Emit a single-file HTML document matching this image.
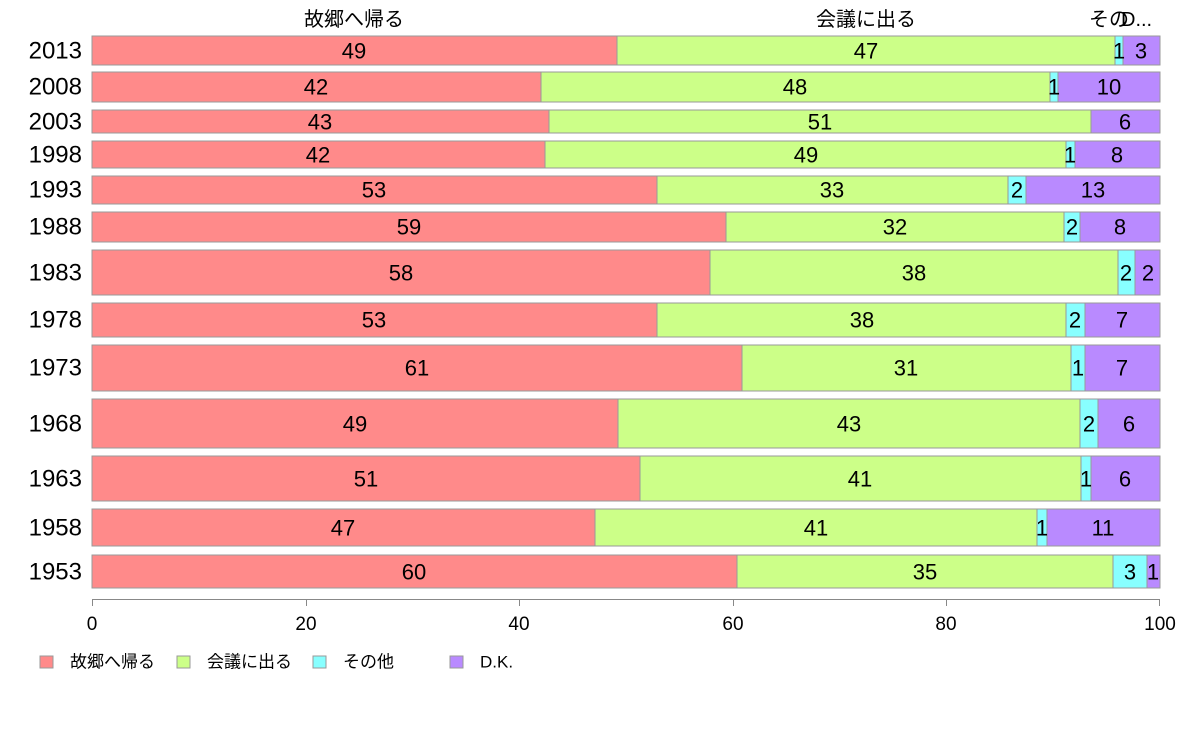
<!DOCTYPE html>
<html><head><meta charset="utf-8"><style>
html,body{margin:0;padding:0;background:#fff;}
svg text{font-family:"Liberation Sans","Noto Sans CJK JP",sans-serif;fill:#000;}
.y{font-size:24px;text-anchor:end;dominant-baseline:central;}
.v{font-size:22px;text-anchor:middle;dominant-baseline:central;}
.t{font-size:20px;text-anchor:middle;}
.l{font-size:17px;dominant-baseline:central;}
rect{stroke:#999;stroke-width:1;}
.a{fill:#FF8A8A}.b{fill:#CCFF88}.c{fill:#88FFFF}.d{fill:#B98AFF}
</style></head><body>
<svg width="1188" height="736" xmlns="http://www.w3.org/2000/svg">
<text class="t" x="354" y="26">故郷へ帰る</text>
<text class="t" x="866" y="26">会議に出る</text>
<text class="t" x="1089" y="26" style="text-anchor:start">その</text>
<text class="t" x="1121" y="26" style="text-anchor:start">D...</text>

<text class="y" x="82" y="51">2013</text>
<rect class="a" x="92" y="36" width="525" height="29"/><rect class="b" x="617" y="36" width="498" height="29"/><rect class="c" x="1115" y="36" width="8" height="29"/><rect class="d" x="1123" y="36" width="37" height="29"/>
<text class="v" x="354" y="51">49</text><text class="v" x="866" y="51">47</text><text class="v" x="1119" y="51">1</text><text class="v" x="1141" y="51">3</text>

<text class="y" x="82" y="87">2008</text>
<rect class="a" x="92" y="72" width="449" height="30"/><rect class="b" x="541" y="72" width="509" height="30"/><rect class="c" x="1050" y="72" width="8" height="30"/><rect class="d" x="1058" y="72" width="102" height="30"/>
<text class="v" x="316" y="87">42</text><text class="v" x="795" y="87">48</text><text class="v" x="1054" y="87">1</text><text class="v" x="1109" y="87">10</text>

<text class="y" x="82" y="122">2003</text>
<rect class="a" x="92" y="110" width="457" height="23"/><rect class="b" x="549" y="110" width="542" height="23"/><rect class="d" x="1091" y="110" width="69" height="23"/>
<text class="v" x="320" y="122">43</text><text class="v" x="820" y="122">51</text><text class="v" x="1125" y="122">6</text>

<text class="y" x="82" y="155">1998</text>
<rect class="a" x="92" y="141" width="453" height="27"/><rect class="b" x="545" y="141" width="521" height="27"/><rect class="c" x="1066" y="141" width="9" height="27"/><rect class="d" x="1075" y="141" width="85" height="27"/>
<text class="v" x="318" y="155">42</text><text class="v" x="806" y="155">49</text><text class="v" x="1070" y="155">1</text><text class="v" x="1117" y="155">8</text>

<text class="y" x="82" y="190">1993</text>
<rect class="a" x="92" y="176" width="565" height="28"/><rect class="b" x="657" y="176" width="351" height="28"/><rect class="c" x="1008" y="176" width="18" height="28"/><rect class="d" x="1026" y="176" width="134" height="28"/>
<text class="v" x="374" y="190">53</text><text class="v" x="832" y="190">33</text><text class="v" x="1017" y="190">2</text><text class="v" x="1093" y="190">13</text>

<text class="y" x="82" y="227">1988</text>
<rect class="a" x="92" y="212" width="634" height="30"/><rect class="b" x="726" y="212" width="338" height="30"/><rect class="c" x="1064" y="212" width="16" height="30"/><rect class="d" x="1080" y="212" width="80" height="30"/>
<text class="v" x="409" y="227">59</text><text class="v" x="895" y="227">32</text><text class="v" x="1072" y="227">2</text><text class="v" x="1120" y="227">8</text>

<text class="y" x="82" y="273">1983</text>
<rect class="a" x="92" y="250" width="618" height="45"/><rect class="b" x="710" y="250" width="408" height="45"/><rect class="c" x="1118" y="250" width="17" height="45"/><rect class="d" x="1135" y="250" width="25" height="45"/>
<text class="v" x="401" y="273">58</text><text class="v" x="914" y="273">38</text><text class="v" x="1126" y="273">2</text><text class="v" x="1148" y="273">2</text>

<text class="y" x="82" y="320">1978</text>
<rect class="a" x="92" y="303" width="565" height="34"/><rect class="b" x="657" y="303" width="409" height="34"/><rect class="c" x="1066" y="303" width="19" height="34"/><rect class="d" x="1085" y="303" width="75" height="34"/>
<text class="v" x="374" y="320">53</text><text class="v" x="862" y="320">38</text><text class="v" x="1075" y="320">2</text><text class="v" x="1122" y="320">7</text>

<text class="y" x="82" y="368">1973</text>
<rect class="a" x="92" y="345" width="650" height="46"/><rect class="b" x="742" y="345" width="329" height="46"/><rect class="c" x="1071" y="345" width="14" height="46"/><rect class="d" x="1085" y="345" width="75" height="46"/>
<text class="v" x="417" y="368">61</text><text class="v" x="906" y="368">31</text><text class="v" x="1078" y="368">1</text><text class="v" x="1122" y="368">7</text>

<text class="y" x="82" y="424">1968</text>
<rect class="a" x="92" y="399" width="526" height="49"/><rect class="b" x="618" y="399" width="462" height="49"/><rect class="c" x="1080" y="399" width="18" height="49"/><rect class="d" x="1098" y="399" width="62" height="49"/>
<text class="v" x="355" y="424">49</text><text class="v" x="849" y="424">43</text><text class="v" x="1089" y="424">2</text><text class="v" x="1129" y="424">6</text>

<text class="y" x="82" y="479">1963</text>
<rect class="a" x="92" y="456" width="548" height="45"/><rect class="b" x="640" y="456" width="441" height="45"/><rect class="c" x="1081" y="456" width="10" height="45"/><rect class="d" x="1091" y="456" width="69" height="45"/>
<text class="v" x="366" y="479">51</text><text class="v" x="860" y="479">41</text><text class="v" x="1086" y="479">1</text><text class="v" x="1125" y="479">6</text>

<text class="y" x="82" y="528">1958</text>
<rect class="a" x="92" y="509" width="503" height="37"/><rect class="b" x="595" y="509" width="442" height="37"/><rect class="c" x="1037" y="509" width="10" height="37"/><rect class="d" x="1047" y="509" width="113" height="37"/>
<text class="v" x="343" y="528">47</text><text class="v" x="816" y="528">41</text><text class="v" x="1042" y="528">1</text><text class="v" x="1103" y="528">11</text>

<text class="y" x="82" y="572">1953</text>
<rect class="a" x="92" y="555" width="645" height="33"/><rect class="b" x="737" y="555" width="376" height="33"/><rect class="c" x="1113" y="555" width="34" height="33"/><rect class="d" x="1147" y="555" width="13" height="33"/>
<text class="v" x="414" y="572">60</text><text class="v" x="925" y="572">35</text><text class="v" x="1130" y="572">3</text><text class="v" x="1153" y="572">1</text>

<g stroke="#888" stroke-width="1" fill="none">
<line x1="92" y1="599.5" x2="1160" y2="599.5"/>
<line x1="92.5" y1="599" x2="92.5" y2="606"/><line x1="306.5" y1="599" x2="306.5" y2="606"/><line x1="519.5" y1="599" x2="519.5" y2="606"/><line x1="733.5" y1="599" x2="733.5" y2="606"/><line x1="946.5" y1="599" x2="946.5" y2="606"/><line x1="1159.5" y1="599" x2="1159.5" y2="606"/>
</g>
<g style="font-size:19px;text-anchor:middle">
<text x="92" y="630">0</text><text x="306" y="630">20</text><text x="519" y="630">40</text><text x="733" y="630">60</text><text x="946" y="630">80</text><text x="1160" y="630">100</text>
</g>

<rect class="a" x="40" y="656" width="13" height="12"/><text class="l" x="70" y="662">故郷へ帰る</text>
<rect class="b" x="177" y="656" width="13" height="12"/><text class="l" x="207" y="662">会議に出る</text>
<rect class="c" x="313" y="656" width="13" height="12"/><text class="l" x="343" y="662">その他</text>
<rect class="d" x="450" y="656" width="13" height="12"/><text class="l" x="480" y="662">D.K.</text>
</svg>
</body></html>
